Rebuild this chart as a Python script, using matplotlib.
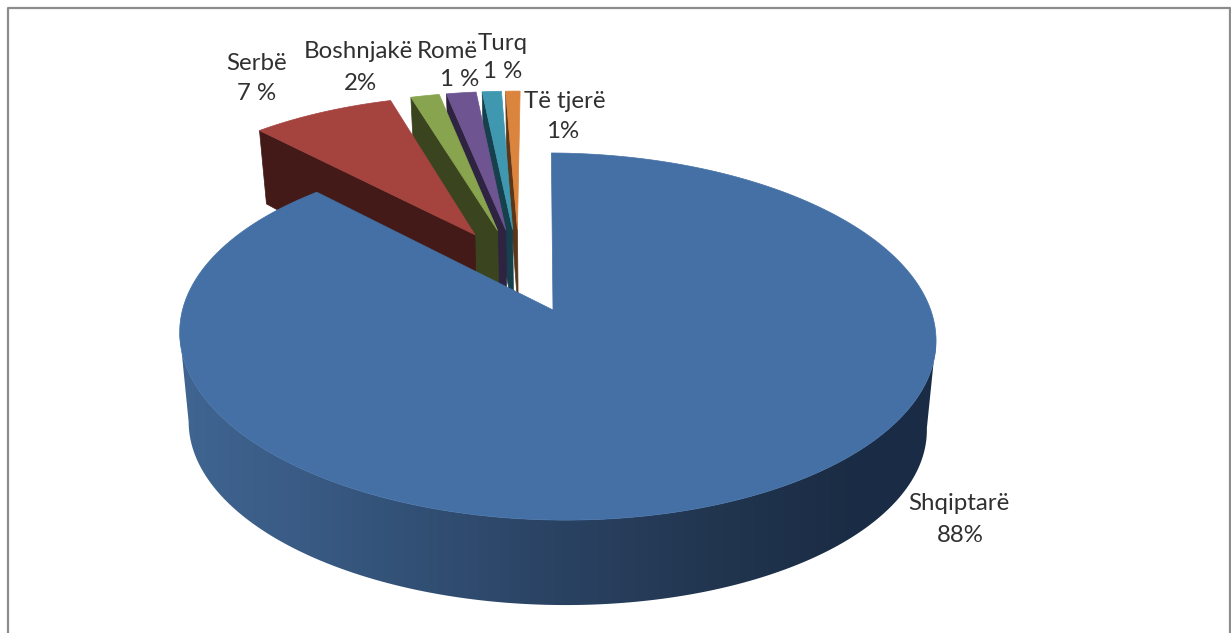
import numpy as np
import matplotlib
matplotlib.use("Agg")
import matplotlib.pyplot as plt
from matplotlib.patches import Polygon

# chart data, shares (the printed labels are rounded)
categories = ["Shqiptarë", "Serbë", "Boshnjakë", "Romë", "Turq", "Të tjerë"]
shares = [87.7, 7.5, 1.5, 1.55, 1.0, 0.75]
share_labels = ["88%", "7 %", "2%", "1 %", "1 %", "1%"]

# colours per slice: top face, dark wall
top_colors = ["#4470A5", "#A5433F", "#88A44E", "#6E5490", "#3F98B0", "#DB843D"]
wall_colors = ["#1A2C45", "#431A17", "#3A4520", "#2E2340", "#17404D", "#5C3618"]

# label line centres in pixels (name, value)
label_pos = [((959, 504), (960, 535)), ((257, 64), (257, 94)), ((358, 52), (360, 83)),
             ((447, 51), (460, 80)), ((503, 43), (503, 72)), ((565, 101), (563, 131))]

W, H = 1231, 633
EXPLODE = 0.248
K = 0.1444   # perspective front to back
M = 0.012    # slight tilt left to right
VX = 540     # x of the point the depth lines run to


def project(u, v, bottom=False):
    """Pie plane coordinates to image pixels."""
    scale = 0.976 if bottom else 1.0
    # walls get shorter towards the back
    cy = 400 - 18 * np.maximum(v, 0) if bottom else 310
    w = 1 + K * v - M * u
    x = VX + (scale * 374 * u + 553 - VX) / w
    y = cy - scale * 179.7 * v / w + 3 * u
    return x, y


fig = plt.figure(figsize=(W / 100, H / 100), dpi=100)
ax = fig.add_axes([0, 0, 1, 1])

# frame round the chart
ax.plot([8, 8, 1230, 1230], [H, 8, 8, H], color="#8C8C8C", lw=1.6)

edges = np.cumsum([0] + shares) / sum(shares) * 2 * np.pi
mids = (edges[:-1] + edges[1:]) / 2
dirs = np.column_stack([np.sin(mids), np.cos(mids)]) * EXPLODE
offsets = dirs - dirs[0]   # the blue apex is the origin of the plane

# horizontal shading of the blue wall
shade_x = np.arange(187, 926)
shade = np.column_stack([
    np.interp(shade_x, [187, 300, 420, 560, 700, 830, 925], [64, 58, 50, 42, 34, 27, 26]),
    np.interp(shade_x, [187, 300, 420, 560, 700, 830, 925], [102, 92, 80, 66, 54, 45, 44]),
    np.interp(shade_x, [187, 300, 420, 560, 700, 830, 925], [146, 134, 117, 98, 80, 69, 69]),
]) / 255

# slices nearest the gap first, so each one covers the wall of the one before
for i in [5, 4, 3, 2, 1, 0]:
    t = np.linspace(edges[i], edges[i + 1], max(8, int(shares[i] * 6)))
    ou, ov = offsets[i]
    u = np.concatenate([[ou], ou + np.sin(t)])
    v = np.concatenate([[ov], ov + np.cos(t)])

    if i > 0:
        # cut wall on the start side of the slice
        x0, y0 = project(u[:2], v[:2])
        x1, y1 = project(u[:2], v[:2], bottom=True)
        wall = np.column_stack([np.r_[x0, x1[::-1]], np.r_[y0, y1[::-1]]])
        ax.add_patch(Polygon(wall, fc=wall_colors[i], ec=wall_colors[i], lw=0.5))
    else:
        # rim of the big slice, gradient image clipped to its outline
        # the arc runs between the two points where the side edges touch the disc
        tr = np.radians(np.linspace(98, 262, 300))
        xa, ya = project(np.sin(tr), np.cos(tr))
        xb, yb = project(np.sin(tr), np.cos(tr), bottom=True)
        rim = Polygon(np.column_stack([np.r_[xa, xb[::-1]], np.r_[ya, yb[::-1]]]),
                      fc="none", ec="none", transform=ax.transData)
        ax.add_patch(rim)
        im = ax.imshow(shade[np.newaxis, :, :], extent=(170, 945, 620, 300), aspect="auto", zorder=1)
        im.set_clip_path(rim)

    x, y = project(u, v)
    ax.add_patch(Polygon(np.column_stack([x, y]), fc=top_colors[i], ec=top_colors[i], lw=0.5, zorder=2 if i == 0 else 1))

for name, val, (p1, p2) in zip(categories, share_labels, label_pos):
    ax.text(p1[0], p1[1], name, ha="center", va="center", fontsize=17.3, family="Lato", color="#303030")
    ax.text(p2[0], p2[1], val, ha="center", va="center", fontsize=17.3, family="Lato", color="#303030")

ax.set_xlim(0, W)
ax.set_ylim(H, 0)
ax.axis("off")

fig.savefig("out.png", dpi=100)
